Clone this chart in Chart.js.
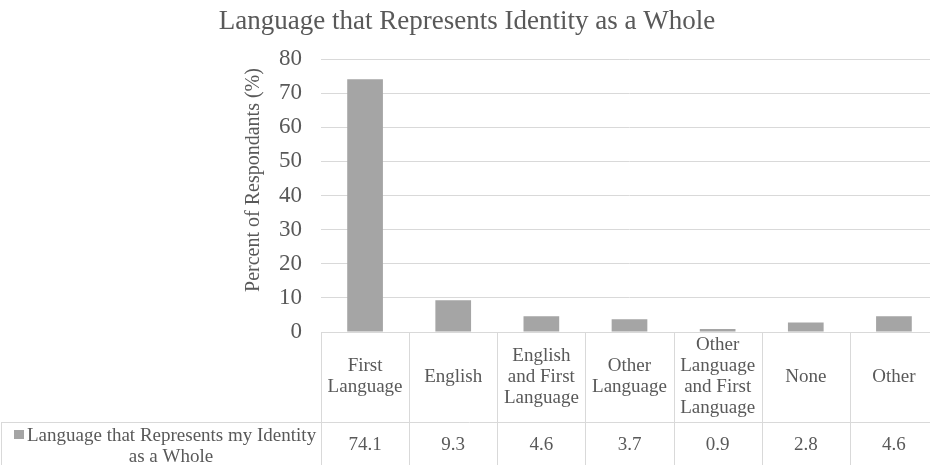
<!DOCTYPE html>
<html>
<head>
<meta charset="utf-8">
<script src="https://cdn.jsdelivr.net/npm/chart.js@4/dist/chart.umd.min.js"></script>
<style>
  html, body { margin: 0; padding: 0; background: #fff; overflow: hidden; }
  #wrap { width: 938px; height: 465px; }
</style>
</head>
<body>
<div id="wrap"><canvas id="c"></canvas></div>
<script>
// data
const categories = [
  ['First', 'Language'],
  ['English'],
  ['English', 'and First', 'Language'],
  ['Other', 'Language'],
  ['Other', 'Language', 'and First', 'Language'],
  ['None'],
  ['Other']
];
const values = [74.1, 9.3, 4.6, 3.7, 0.9, 2.8, 4.6];
const yTicks = [0, 10, 20, 30, 40, 50, 60, 70, 80];
const seriesName = ['Language that Represents my Identity', 'as a Whole'];
const chartTitle = 'Language that Represents Identity as a Whole';
const yTitle = 'Percent of Respondants (%)';

const FONT = "'Liberation Serif', 'Times New Roman', serif";
const TXT = '#595959';
const LINE = '#D9D9D9';
const BAR = '#A5A5A5';

// titles + data table under the plot (Excel style)
const tablePlugin = {
  id: 'dataTable',
  afterDraw(chart) {
    const ctx = chart.ctx;
    const x = chart.scales.x;
    const area = chart.chartArea;
    const top = area.bottom;
    const mid = 422;
    const bottom = chart.height + 2;
    const half = (x.getPixelForValue(1) - x.getPixelForValue(0)) / 2;

    ctx.save();
    // main title
    ctx.fillStyle = TXT;
    ctx.textAlign = 'center';
    ctx.textBaseline = 'middle';
    ctx.font = '27px ' + FONT;
    ctx.fillText(chartTitle, 467, 22);

    // y axis title
    ctx.save();
    ctx.translate(254, 180);
    ctx.rotate(-Math.PI / 2);
    ctx.font = '20px ' + FONT;
    ctx.fillText(yTitle, 0, 0);
    ctx.restore();

    ctx.strokeStyle = LINE;
    ctx.lineWidth = 1;
    ctx.beginPath();
    // axis line / top of table
    ctx.moveTo(area.left, top + 0.5); ctx.lineTo(area.right, top + 0.5);
    // row separator
    ctx.moveTo(1, mid + 0.5); ctx.lineTo(area.right, mid + 0.5);
    // left edge of label column
    ctx.moveTo(1.5, mid); ctx.lineTo(1.5, bottom);
    for (let i = 0; i <= categories.length; i++) {
      const px = Math.round(x.getPixelForValue(i) - half) + 0.5;
      ctx.moveTo(px, top); ctx.lineTo(px, bottom);
    }
    ctx.stroke();

    ctx.fillStyle = TXT;
    ctx.font = '19px ' + FONT;
    const lh = 21;
    categories.forEach((lines, i) => {
      const cx = x.getPixelForValue(i);
      const y0 = (top + mid) / 2 - (lines.length - 1) * lh / 2;
      lines.forEach((t, j) => ctx.fillText(t, cx, y0 + j * lh));
      ctx.fillText(values[i].toFixed(1), cx, 445);
    });

    // series key
    ctx.fillStyle = BAR;
    ctx.fillRect(14, 430, 10, 9);
    ctx.fillStyle = TXT;
    ctx.textAlign = 'left';
    ctx.fillText(seriesName[0], 27, 436);
    ctx.textAlign = 'center';
    ctx.fillText(seriesName[1], 171, 457);
    ctx.restore();
  }
};

new Chart(document.getElementById('c'), {
  type: 'bar',
  data: {
    labels: categories.map(c => c.join(' ')),
    datasets: [{
      label: seriesName.join(' '),
      data: values,
      backgroundColor: BAR,
      categoryPercentage: 1,
      barPercentage: 0.405
    }]
  },
  options: {
    responsive: true,
    maintainAspectRatio: false,
    animation: false,
    layout: { padding: { left: 0, right: 0, top: 59, bottom: 133 } },
    plugins: {
      legend: { display: false },
      tooltip: { enabled: false },
      title: { display: false }
    },
    scales: {
      x: { display: false },
      y: {
        min: 0,
        max: 80,
        afterBuildTicks: s => { s.ticks = yTicks.map(v => ({ value: v })); },
        afterFit: s => { s.width = 321; },
        border: { display: false },
        grid: { color: LINE, drawTicks: false },
        ticks: {
          color: TXT,
          padding: 19,
          font: { family: FONT, size: 23 }
        }
      }
    }
  },
  plugins: [tablePlugin]
});
</script>
</body>
</html>
